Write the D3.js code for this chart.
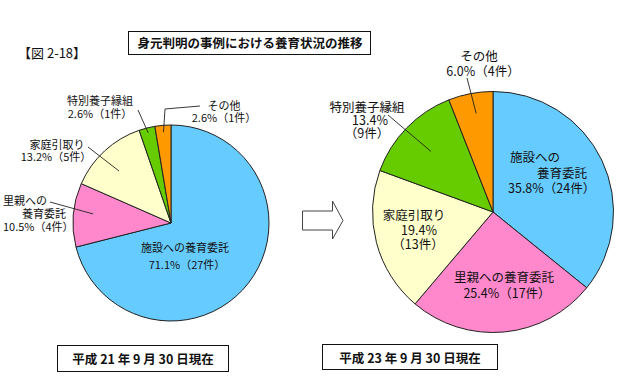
<!DOCTYPE html>
<html><head><meta charset="utf-8">
<script src="https://cdn.jsdelivr.net/npm/d3@7"></script>
<style>
html,body{margin:0;padding:0;background:#fff;}
text{font-family:"Noto Sans CJK JP","Noto Sans",sans-serif;fill:#111;}
</style></head>
<body>
<svg id="c" width="633" height="383"></svg>
<script>
// ---- data ----
const categories = ["施設への養育委託", "里親への養育委託", "家庭引取り", "特別養子縁組", "その他"];
const colors = ["#66CCFF", "#FF88CC", "#FFFFCC", "#66CC00", "#FF9900"];
const counts2009 = [27, 4, 5, 1, 1];
const pct2009 = ["71.1%", "10.5%", "13.2%", "2.6%", "2.6%"];
const counts2011 = [24, 17, 13, 9, 4];
const pct2011 = ["35.8%", "25.4%", "19.4%", "13.4%", "6.0%"];
const chartTitle = "身元判明の事例における養育状況の推移";
const figLabel = "【図 2-18】";
const dateLabels = ["平成 21 年 9 月 30 日現在", "平成 23 年 9 月 30 日現在"];

const svg = d3.select("#c");
const pie = d3.pie().sort(null).value(d => d);

function drawPie(cx, cy, r, counts) {
  const g = svg.append("g").attr("transform", `translate(${cx},${cy})`);
  const arc = d3.arc().innerRadius(0).outerRadius(r);
  const arcs = pie(counts);
  g.selectAll("path").data(arcs).join("path")
    .attr("d", arc)
    .attr("fill", (d, i) => colors[i])
    .attr("stroke", "#222").attr("stroke-width", 1);
  return {arcs, cx, cy, r};
}

// point inside a slice at fraction f of radius, angle offset t (0..1 within slice)
function inner(p, i, f, t) {
  const a = p.arcs[i];
  const ang = a.startAngle + (a.endAngle - a.startAngle) * t;
  return [p.cx + Math.sin(ang) * p.r * f, p.cy - Math.cos(ang) * p.r * f];
}

function label(lines, x, y, size, anchor, lh) {
  const t = svg.append("text").attr("font-size", size).attr("text-anchor", anchor || "middle");
  lines.forEach((s, k) => {
    t.append("tspan").attr("x", Array.isArray(x) ? x[k] : x).attr("y", y + k * lh).text(s);
  });
}
function leader(pts) {
  svg.append("path").attr("d", d3.line()(pts)).attr("fill", "none")
    .attr("stroke", "#222").attr("stroke-width", 0.9);
}
const cnt = n => "（" + n + "件）";

// ---- header ----
svg.append("text").attr("x", 18).attr("y", 58).attr("font-size", 13).text(figLabel);
svg.append("rect").attr("x", 128.5).attr("y", 31.5).attr("width", 242).attr("height", 23)
  .attr("fill", "#fff").attr("stroke", "#111").attr("stroke-width", 1);
svg.append("text").attr("x", 250).attr("y", 48).attr("font-size", 12.5)
  .attr("font-weight", "bold").attr("text-anchor", "middle").text(chartTitle);

// ---- left pie (H21) ----
const L = drawPie(171, 223, 98, counts2009);
label([categories[0], pct2009[0] + cnt(counts2009[0])], [185, 187], 252, 11, "middle", 17);
label(["里親への", "養育委託", pct2009[1] + cnt(counts2009[1])], [3, 22, 3], 205, 11, "start", 13);
leader([[50, 202], inner(L, 1, 0.8, 0.55)]);
label(["家庭引取り", pct2009[2] + cnt(counts2009[2])], [57, 56], 149, 11, "middle", 12);
leader([[88, 147], inner(L, 2, 0.75, 0.45)]);
label(["特別養子縁組", pct2009[3] + cnt(counts2009[3])], 100, 105, 11, "middle", 13);
leader([[138, 110], inner(L, 3, 0.95, 0.5)]);
label(["その他", pct2009[4] + cnt(counts2009[4])], 224, 110, 11, "middle", 11.5);
leader([[200, 106], [165, 109], inner(L, 4, 0.93, 0.5)]);

// ---- arrow ----
svg.append("path")
  .attr("d", "M302.5,211 L332.5,211 L332.5,201 L343,220.5 L332.5,239 L332.5,230 L302.5,230 Z")
  .attr("fill", "#fff").attr("stroke", "#444").attr("stroke-width", 1);

// ---- right pie (H23) ----
const R = drawPie(493, 212, 120.5, counts2011);
label(["施設への", "養育委託", pct2011[0] + cnt(counts2011[0])], [510, 537, 508], 162, 12.5, "start", 15.5);
label([categories[1], pct2011[1] + cnt(counts2011[1])], [504, 507], 282, 12.5, "middle", 16);
label(["家庭引取り", pct2011[2], "（" + counts2011[2] + "件）"], [414, 419, 418], 220, 12.5, "middle", 14.5);
label(["特別養子縁組", pct2011[3], "（" + counts2011[3] + "件）"], [367, 370, 367], 112, 12.5, "middle", 13);
leader([[388, 115], inner(R, 3, 0.72, 0.5)]);
label(["その他", pct2011[4] + cnt(counts2011[4])], [479, 483], 61, 12.5, "middle", 15);
leader([[467, 78], inner(R, 4, 0.83, 0.55)]);

// ---- date boxes ----
[[57.5, 345.5, 171, 26, 143], [322.5, 344.5, 175, 25, 410]].forEach((b, i) => {
  svg.append("rect").attr("x", b[0]).attr("y", b[1]).attr("width", b[2]).attr("height", b[3])
    .attr("fill", "#fff").attr("stroke", "#111").attr("stroke-width", 1);
  svg.append("text").attr("x", b[4]).attr("y", b[1] + 18).attr("font-size", 12.5)
    .attr("font-weight", "bold").attr("text-anchor", "middle").text(dateLabels[i]);
});
</script>
</body></html>
